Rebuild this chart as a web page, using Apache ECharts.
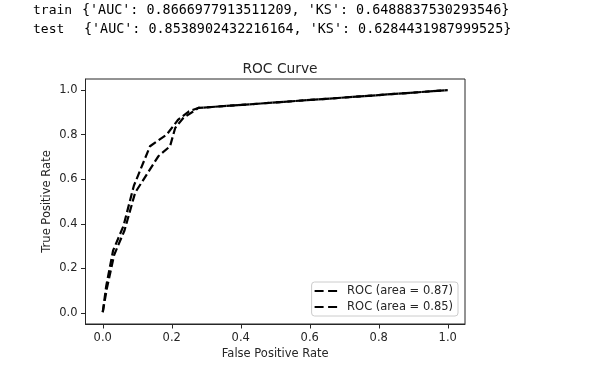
<!DOCTYPE html>
<html><head><meta charset="utf-8">
<script src="https://cdn.jsdelivr.net/npm/echarts@6/dist/echarts.min.js"></script>
<style>html,body{margin:0;padding:0;background:#fff}#c{width:601px;height:371px}</style>
</head><body><div id="c"></div>
<script>
var trainFpr = [0, 0.01, 0.03, 0.06, 0.09, 0.137, 0.185, 0.219, 0.25, 0.277, 1.0];
var trainTpr = [0.003, 0.12, 0.28, 0.39, 0.57, 0.748, 0.80, 0.868, 0.905, 0.92, 1.0];
var testFpr = [0, 0.012, 0.033, 0.063, 0.094, 0.161, 0.195, 0.21, 0.234, 0.263, 0.277, 1.0];
var testTpr = [0.003, 0.11, 0.26, 0.37, 0.54, 0.703, 0.748, 0.83, 0.876, 0.905, 0.92, 1.0];
var seriesNames = ['ROC (area = 0.87)', 'ROC (area = 0.85)'];
var tickValues = [0, 0.2, 0.4, 0.6, 0.8, 1.0];
var printLabels = ['train', 'test'];
var printTexts = ["{'AUC': 0.8666977913511209, 'KS': 0.6488837530293546}",
                  "{'AUC': 0.8538902432216164, 'KS': 0.6284431987999525}"];

function pairs(xs, ys){ return xs.map(function(x,i){return [x, ys[i]];}); }

var chart = echarts.init(document.getElementById('c'), null, {renderer:'canvas'});
var labelFont = {fontFamily:'DejaVu Sans', fontSize:11.5, color:'#262626'};
function axis(name, gap, extra){
  return Object.assign({
    type:'value', min:-0.05, max:1.05, name:name, nameLocation:'middle', nameGap:gap,
    nameMoveOverlap:false,
    nameTextStyle:{fontFamily:'DejaVu Sans', fontSize:11.5, color:'#262626'},
    axisLine:{show:true, onZero:false, lineStyle:{color:'#262626', width:1}},
    axisTick:{show:true, inside:false, length:4.5, customValues:tickValues, lineStyle:{color:'#262626', width:1}},
    axisLabel:Object.assign({customValues:tickValues, margin:8, formatter:function(v){return v.toFixed(1);}}, labelFont),
    splitLine:{show:false}
  }, extra||{});
}
var graphics = [];
printLabels.forEach(function(l,i){
  graphics.push({type:'text', left:33, top:4+i*19, style:{text:l, fontFamily:'DejaVu Sans Mono', fontSize:13, fill:'#000'}});
  graphics.push({type:'text', left:82+i*2, top:4+i*19, style:{text:printTexts[i], fontFamily:'DejaVu Sans Mono', fontSize:13.4, fill:'#000'}});
});
var dashIcon = 'path://M0,0h9v2.2h-9zM13.5,0h9v2.2h-9z';
chart.setOption({
  animation:false,
  backgroundColor:'#fff',
  title:{text:'ROC Curve', left:275, textAlign:'center', top:57, textStyle:{fontFamily:'DejaVu Sans', fontSize:13.8, fontWeight:'normal', color:'#262626'}},
  grid:{left:85.5, right:136, top:79, bottom:47, show:true, borderColor:'#262626', borderWidth:1, backgroundColor:'#fff'},
  xAxis:axis('False Positive Rate', 24),
  yAxis:axis('True Positive Rate', 32),
  legend:{orient:'vertical', right:143, bottom:55, itemWidth:22.5, itemHeight:2.2, itemGap:4,
    backgroundColor:'rgba(255,255,255,0.8)', borderColor:'#cccccc', borderWidth:1, borderRadius:3,
    padding:[3,5,3,3], textStyle:{fontFamily:'DejaVu Sans', fontSize:11.5, color:'#262626', padding:[0,0,0,5]},
    data:seriesNames.map(function(n){return {name:n, icon:dashIcon, itemStyle:{color:'#000'}};})},
  graphic:graphics,
  series:[
    {name:seriesNames[0], type:'line', data:pairs(trainFpr, trainTpr), showSymbol:false, symbol:'none',
     lineStyle:{color:'#000', width:2.2, type:[8,3.5]}, itemStyle:{color:'#000'}},
    {name:seriesNames[1], type:'line', data:pairs(testFpr, testTpr), showSymbol:false, symbol:'none',
     lineStyle:{color:'#000', width:2.2, type:[8,3.5]}, itemStyle:{color:'#000'}}
  ]
});
</script></body></html>
